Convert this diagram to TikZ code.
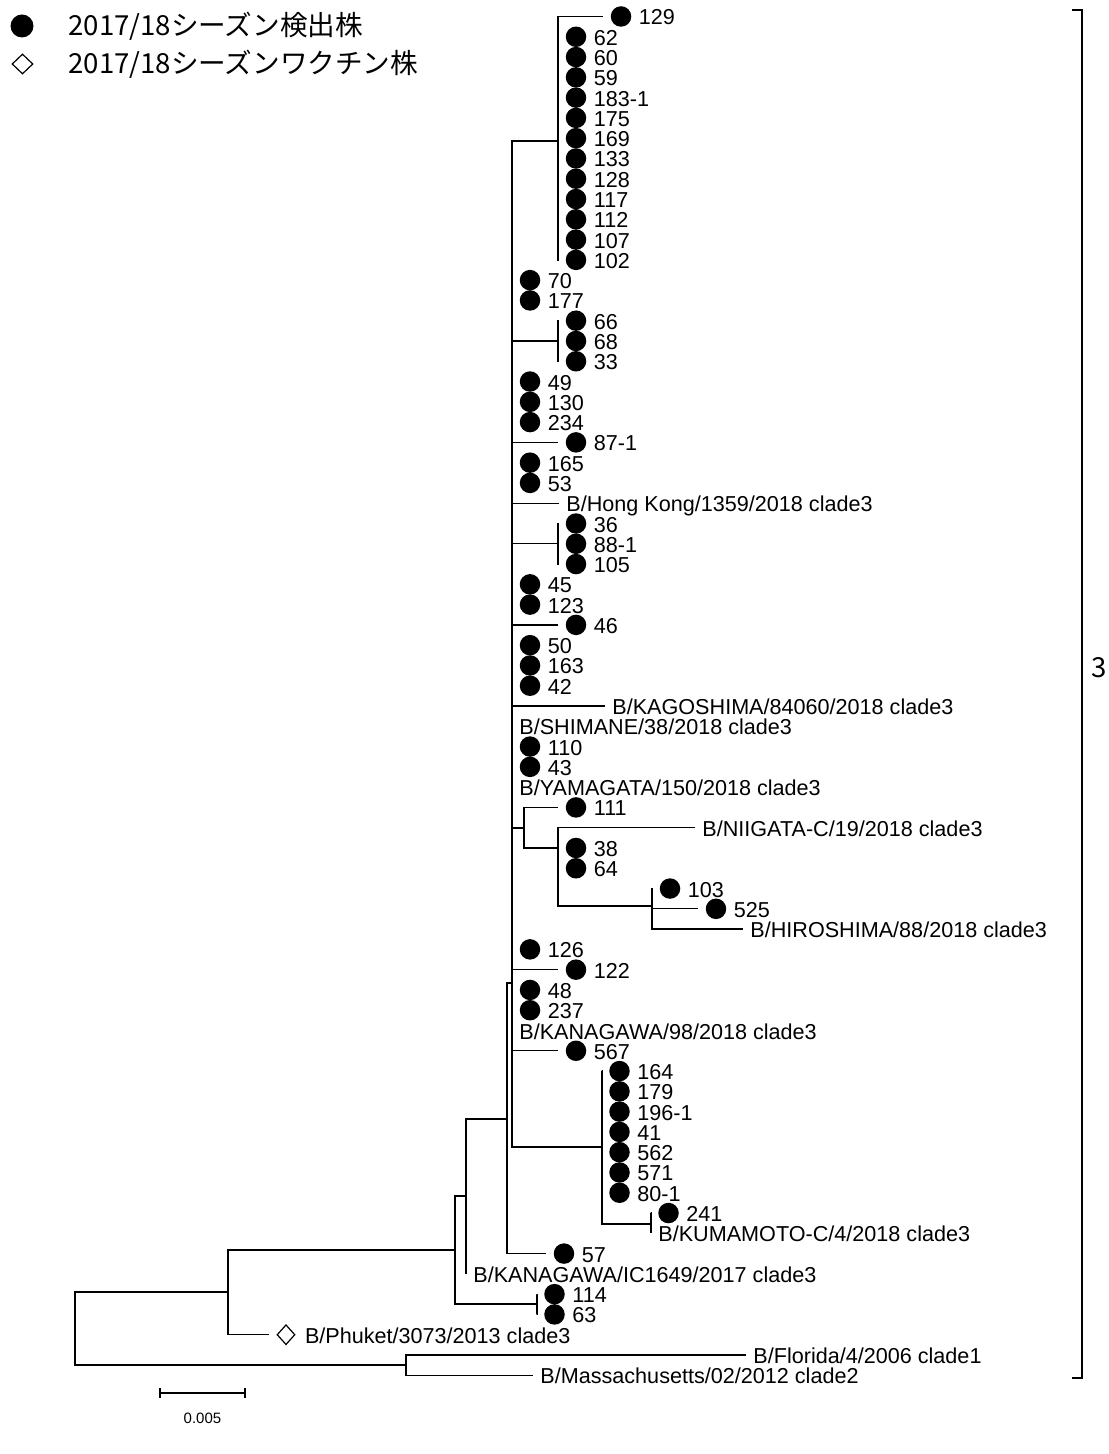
\documentclass[tikz,border=0pt]{standalone}
\usepackage{fontspec}
\setmainfont{Liberation Sans}
\newfontfamily\jpfont{Noto Sans CJK JP}
\usetikzlibrary{shapes.geometric}
\begin{document}
\begin{tikzpicture}[
  x=0.5pt, y=-0.5pt,
  declare function={fy(\i)=16.5+20.28*\i;},
  rama/.style={line width=0.65pt},
  hoja/.style={rama, shorten >=3.5pt},
  punto/.style={circle, fill=black, inner sep=0pt, minimum size=10.25pt},
  rombo/.style={diamond, draw=black, line width=0.6pt, inner sep=0pt, minimum width=9pt, minimum height=10pt},
  etiq/.style={anchor=west, inner sep=0pt, text height=8.5pt, text depth=0pt, font=\fontsize{10.8}{13}\selectfont},
  leyenda/.style={anchor=west, inner sep=0pt, font=\jpfont\fontsize{13.8}{16}\selectfont},
  label distance=3.4pt
]
\useasboundingbox (0,0) rectangle (1108,1454);

\node[punto, minimum size=11.5pt] (ley1) at (22,26) {};
\node[rombo, minimum width=10.5pt] (ley2) at (22.5,64) {};
\node[leyenda] (ley1t) at (68,26) {2017/18シーズン検出株};
\node[leyenda] (ley2t) at (68,64) {2017/18シーズンワクチン株};

\coordinate (nR) at (75,1328.5);
\coordinate (nA) at (228,1292);
\coordinate (nF) at (406,1365);
\coordinate (nB) at (455,1250);
\coordinate (nC) at (466,1196);
\coordinate (nD) at (507,1119);
\coordinate (nE) at (512,983);
\coordinate (nG) at (558,141);
\coordinate (nH) at (558,{fy(16)});
\coordinate (nI) at (558,{fy(26)});
\coordinate (nJ) at (524,828);
\coordinate (nL) at (558,848);
\coordinate (nM) at (652,906);
\coordinate (nN) at (602,1147);
\coordinate (nO) at (651,1224);
\coordinate (nK) at (537,1304);

\foreach \a/\b in {nR/nA, nR/nF, nA/nB, nB/nC, nB/nK, nC/nD, nD/nE, nE/nG,
  nE/nH, nE/nI, nE/nJ, nJ/nL, nL/nM, nE/nN, nN/nO}
  \draw[rama] (\a) |- (\b);

\foreach \i/\x/\p/\txt in {0/621/nG/129, 1/576/nG/62, 2/576/nG/60, 3/576/nG/59,
  4/576/nG/183-1, 5/576/nG/175, 6/576/nG/169, 7/576/nG/133, 8/576/nG/128,
  9/576/nG/117, 10/576/nG/112, 11/576/nG/107, 12/576/nG/102,
  13/530/nE/70, 14/530/nE/177, 15/576/nH/66, 16/576/nH/68, 17/576/nH/33,
  18/530/nE/49, 19/530/nE/130, 20/530/nE/234, 21/576/nE/87-1,
  22/530/nE/165, 23/530/nE/53, 25/576/nI/36, 26/576/nI/88-1, 27/576/nI/105,
  28/530/nE/45, 29/530/nE/123, 30/576/nE/46, 31/530/nE/50, 32/530/nE/163,
  33/530/nE/42, 36/530/nE/110, 37/530/nE/43, 39/576/nJ/111,
  41/576/nL/38, 42/576/nL/64, 43/670/nM/103, 44/716/nM/525,
  46/530/nE/126, 47/576/nE/122, 48/530/nE/48, 49/530/nE/237, 51/576/nE/567,
  52/619.5/nN/164, 53/619.5/nN/179, 54/619.5/nN/196-1, 55/619.5/nN/41,
  56/619.5/nN/562, 57/619.5/nN/571, 58/619.5/nN/80-1, 59/668.5/nO/241,
  61/564/nD/57, 63/554.5/nK/114, 64/554.5/nK/63}
{
  \node[punto, label={[etiq]right:\txt}] (c\i) at (\x,{fy(\i)}) {};
  \draw[hoja] (\p) |- (c\i);
}

\foreach \i/\x/\p/\txt in {24/566/nE/{B/Hong Kong/1359/2018 clade3},
  34/612/nE/{B/KAGOSHIMA/84060/2018 clade3},
  35/519/nE/{B/SHIMANE/38/2018 clade3},
  38/519/nE/{B/YAMAGATA/150/2018 clade3},
  40/702/nL/{B/NIIGATA-C/19/2018 clade3},
  45/750/nM/{B/HIROSHIMA/88/2018 clade3},
  50/519/nE/{B/KANAGAWA/98/2018 clade3},
  60/658/nO/{B/KUMAMOTO-C/4/2018 clade3},
  62/473/nC/{B/KANAGAWA/IC1649/2017 clade3},
  66/753/nF/{B/Florida/4/2006 clade1},
  67/540/nF/{B/Massachusetts/02/2012 clade2}}
{
  \node[etiq] (e\i) at (\x,{fy(\i)}) {\txt};
  \draw[hoja] (\p) |- (e\i);
}

\node[rombo, label={[etiq, label distance=4.5pt]right:B/Phuket/3073/2013 clade3}] (c65) at (286,{fy(65)}) {};
\draw[hoja] (nA) |- (c65);

\draw[rama] (1072,10) -- (1082,10) -- (1082,1378) -- (1072,1378);
\node[leyenda, anchor=center] (grupo) at (1099,668) {3};

\draw[rama] (160,1388) -- (160,1398) (160,1393) -- (245,1393) (245,1388) -- (245,1398);
\node[inner sep=0pt, font=\fontsize{7.5}{9}\selectfont] (escala) at (202.5,1418) {0.005};
\end{tikzpicture}
\end{document}
